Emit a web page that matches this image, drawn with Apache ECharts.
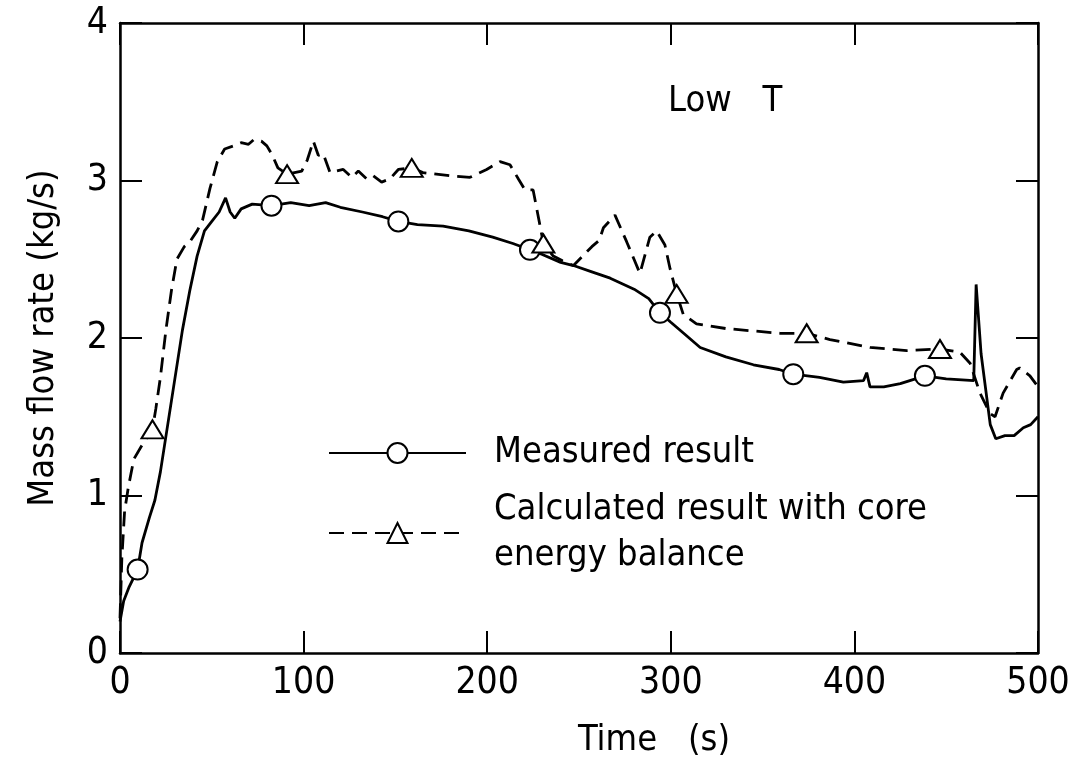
<!DOCTYPE html>
<html>
<head>
<meta charset="utf-8">
<script src="https://cdn.jsdelivr.net/npm/echarts@6/dist/echarts.min.js"></script>
<style>
  html, body { margin: 0; padding: 0; background: #fff; }
  #chart { width: 1078px; height: 764px; }
</style>
</head>
<body>
<div id="chart"></div>
<script>
// ---- Data ----
const xTicks = [0, 100, 200, 300, 400, 500];
const yTicks = [0, 1, 2, 3, 4];

const measuredTime = [0, 2, 5, 9.6, 12, 16, 19, 22, 26, 30, 34, 38, 42, 46, 50, 54, 57.5, 60, 62.5, 66, 72, 82.5, 93, 103, 112, 120, 132, 143, 151.6, 162, 176, 190, 203, 214, 223.3, 230, 240, 247, 257, 267, 280, 288, 294.1, 300, 307, 316, 330, 345, 359, 366.7, 381, 394, 405, 406.7, 408.5, 416, 425, 438.4, 450, 465, 466.3, 469, 474, 477, 482, 487, 492, 496, 500];
const measuredRate = [0.2, 0.33, 0.42, 0.53, 0.7, 0.86, 0.97, 1.15, 1.45, 1.75, 2.05, 2.3, 2.52, 2.68, 2.74, 2.8, 2.89, 2.8, 2.76, 2.82, 2.85, 2.84, 2.86, 2.84, 2.86, 2.83, 2.8, 2.77, 2.74, 2.72, 2.71, 2.68, 2.64, 2.6, 2.56, 2.53, 2.48, 2.46, 2.42, 2.38, 2.31, 2.25, 2.16, 2.1, 2.03, 1.94, 1.88, 1.83, 1.8, 1.77, 1.75, 1.72, 1.73, 1.78, 1.69, 1.69, 1.71, 1.76, 1.74, 1.73, 2.34, 1.9, 1.45, 1.36, 1.38, 1.38, 1.43, 1.45, 1.5];

const calcTime = [0, 1, 2.5, 4.5, 7.5, 12.5, 17.7, 19.5, 22, 25, 28, 31, 35, 38, 42, 45, 49, 53, 57, 62, 66, 70, 73, 77, 80, 83, 86, 91, 99, 102, 105.3, 108, 110.7, 114.4, 121.6, 126.2, 129.8, 134.4, 138, 142.5, 147, 151.6, 158.9, 165, 180, 190.6, 199.7, 207, 212.4, 217, 220.6, 225, 227, 229, 230.6, 236, 241, 247, 252, 257, 261, 263.3, 269.6, 276, 283.2, 288.6, 292.3, 296.8, 299.6, 303.2, 306.8, 314, 330, 359.5, 374, 386.7, 408.5, 428.5, 446.6, 457.5, 463, 468.4, 473.9, 476.6, 481, 488.4, 490, 495.6, 500];
const calcRate = [0.22, 0.6, 0.9, 1.05, 1.23, 1.33, 1.42, 1.55, 1.75, 2.05, 2.3, 2.5, 2.58, 2.61, 2.68, 2.75, 2.95, 3.12, 3.2, 3.22, 3.24, 3.23, 3.26, 3.25, 3.22, 3.16, 3.08, 3.04, 3.06, 3.13, 3.25, 3.16, 3.17, 3.05, 3.07, 3.02, 3.06, 3.01, 3.03, 2.99, 3.01, 3.07, 3.08, 3.05, 3.03, 3.02, 3.07, 3.12, 3.1, 3.01, 2.94, 2.94, 2.82, 2.7, 2.6, 2.52, 2.49, 2.46, 2.52, 2.58, 2.62, 2.7, 2.78, 2.61, 2.41, 2.64, 2.68, 2.59, 2.44, 2.28, 2.15, 2.09, 2.06, 2.03, 2.03, 1.99, 1.94, 1.92, 1.93, 1.91, 1.84, 1.65, 1.52, 1.5, 1.65, 1.8, 1.81, 1.76, 1.69];

const measuredMarkerTimes = [9.6, 82.5, 151.6, 223.3, 294.1, 366.7, 438.4];
const calcMarkerTimes = [17.7, 91, 158.9, 230.6, 303.2, 374, 446.6];

const seriesNames = ['Measured result', 'Calculated result with core energy balance'];
const calcLegendText = 'Calculated result with core\nenergy balance';
const xAxisName = 'Time   (s)';
const yAxisName = 'Mass flow rate (kg/s)';
const annotation = 'Low   T';

// ---- Chart ----
const FONT = "'Liberation Sans Narrow', 'DejaVu Sans Condensed', 'Roboto', sans-serif";
const pair = (xs, ys) => xs.map((x, i) => [x, ys[i]]);

const chart = echarts.init(document.getElementById('chart'), null, { renderer: 'canvas' });

const axisLineStyle = { show: true, onZero: false, lineStyle: { color: '#000', width: 2.5 } };
const tickStyle = { show: true, inside: true, length: 22, lineStyle: { color: '#000', width: 2 } };

chart.setOption({
  animation: false,
  backgroundColor: '#fff',
  textStyle: { fontFamily: FONT },
  title: {
    text: annotation,
    left: 668, top: 84,
    textStyle: { fontFamily: FONT, fontSize: 36, fontWeight: 'normal', color: '#000' },
    padding: 0
  },
  grid: { left: 120, top: 23, width: 918, height: 633, containLabel: false },
  legend: [
    {
      data: [seriesNames[0]],
      left: 328, top: 431,
      orient: 'vertical',
      padding: 0,
      itemWidth: 137, itemHeight: 25,
      textStyle: { fontFamily: FONT, fontSize: 36, color: '#000', lineHeight: 44, padding: [0, 0, 0, 23] },
      selectedMode: false
    },
    {
      data: [seriesNames[1]],
      left: 328, top: 464,
      orient: 'vertical',
      padding: 0,
      itemWidth: 137, itemHeight: 25,
      formatter: () => calcLegendText,
      textStyle: { fontFamily: FONT, fontSize: 36, color: '#000', lineHeight: 46, padding: [46, 0, 0, 23] },
      selectedMode: false
    }
  ],
  xAxis: [
    {
      type: 'value', min: xTicks[0], max: xTicks[xTicks.length - 1], interval: 100,
      position: 'bottom',
      axisLine: axisLineStyle, axisTick: tickStyle, splitLine: { show: false },
      axisLabel: { color: '#000', fontSize: 37, margin: 12, fontFamily: FONT },
      name: xAxisName, nameLocation: 'middle', nameGap: 70,
      nameTextStyle: { color: '#000', fontSize: 36, fontFamily: FONT, padding: [0, 0, 0, 150] }
    },
    {
      type: 'value', min: xTicks[0], max: xTicks[xTicks.length - 1], interval: 100,
      position: 'top',
      axisLine: axisLineStyle, axisTick: tickStyle, splitLine: { show: false },
      axisLabel: { show: false }
    }
  ],
  yAxis: [
    {
      type: 'value', min: yTicks[0], max: yTicks[yTicks.length - 1], interval: 1,
      position: 'left',
      axisLine: axisLineStyle, axisTick: tickStyle, splitLine: { show: false },
      axisLabel: { color: '#000', fontSize: 37, margin: 12, fontFamily: FONT },
      name: yAxisName, nameLocation: 'middle', nameGap: 58,
      nameTextStyle: { color: '#000', fontSize: 36, fontFamily: FONT }
    },
    {
      type: 'value', min: yTicks[0], max: yTicks[yTicks.length - 1], interval: 1,
      position: 'right',
      axisLine: axisLineStyle, axisTick: tickStyle, splitLine: { show: false },
      axisLabel: { show: false }
    }
  ],
  series: [
    {
      name: seriesNames[0],
      type: 'line',
      xAxisIndex: 0, yAxisIndex: 0,
      data: pair(measuredTime, measuredRate),
      symbol: 'emptyCircle',
      symbolSize: (v) => measuredMarkerTimes.includes(v[0]) ? 20 : 0,
      showSymbol: true,
      lineStyle: { color: '#000', width: 2.8, type: 'solid' },
      itemStyle: { color: '#000', borderColor: '#000', borderWidth: 2 },
      z: 3
    },
    {
      name: seriesNames[1],
      type: 'line',
      xAxisIndex: 0, yAxisIndex: 0,
      data: pair(calcTime, calcRate),
      symbol: 'emptyTriangle',
      symbolSize: (v) => calcMarkerTimes.includes(v[0]) ? [22, 18] : 0,
      showSymbol: true,
      lineStyle: { color: '#000', width: 2.8, type: [15, 8] },
      itemStyle: { color: '#000', borderColor: '#000', borderWidth: 2 },
      z: 3
    }
  ]
});
</script>
</body>
</html>
